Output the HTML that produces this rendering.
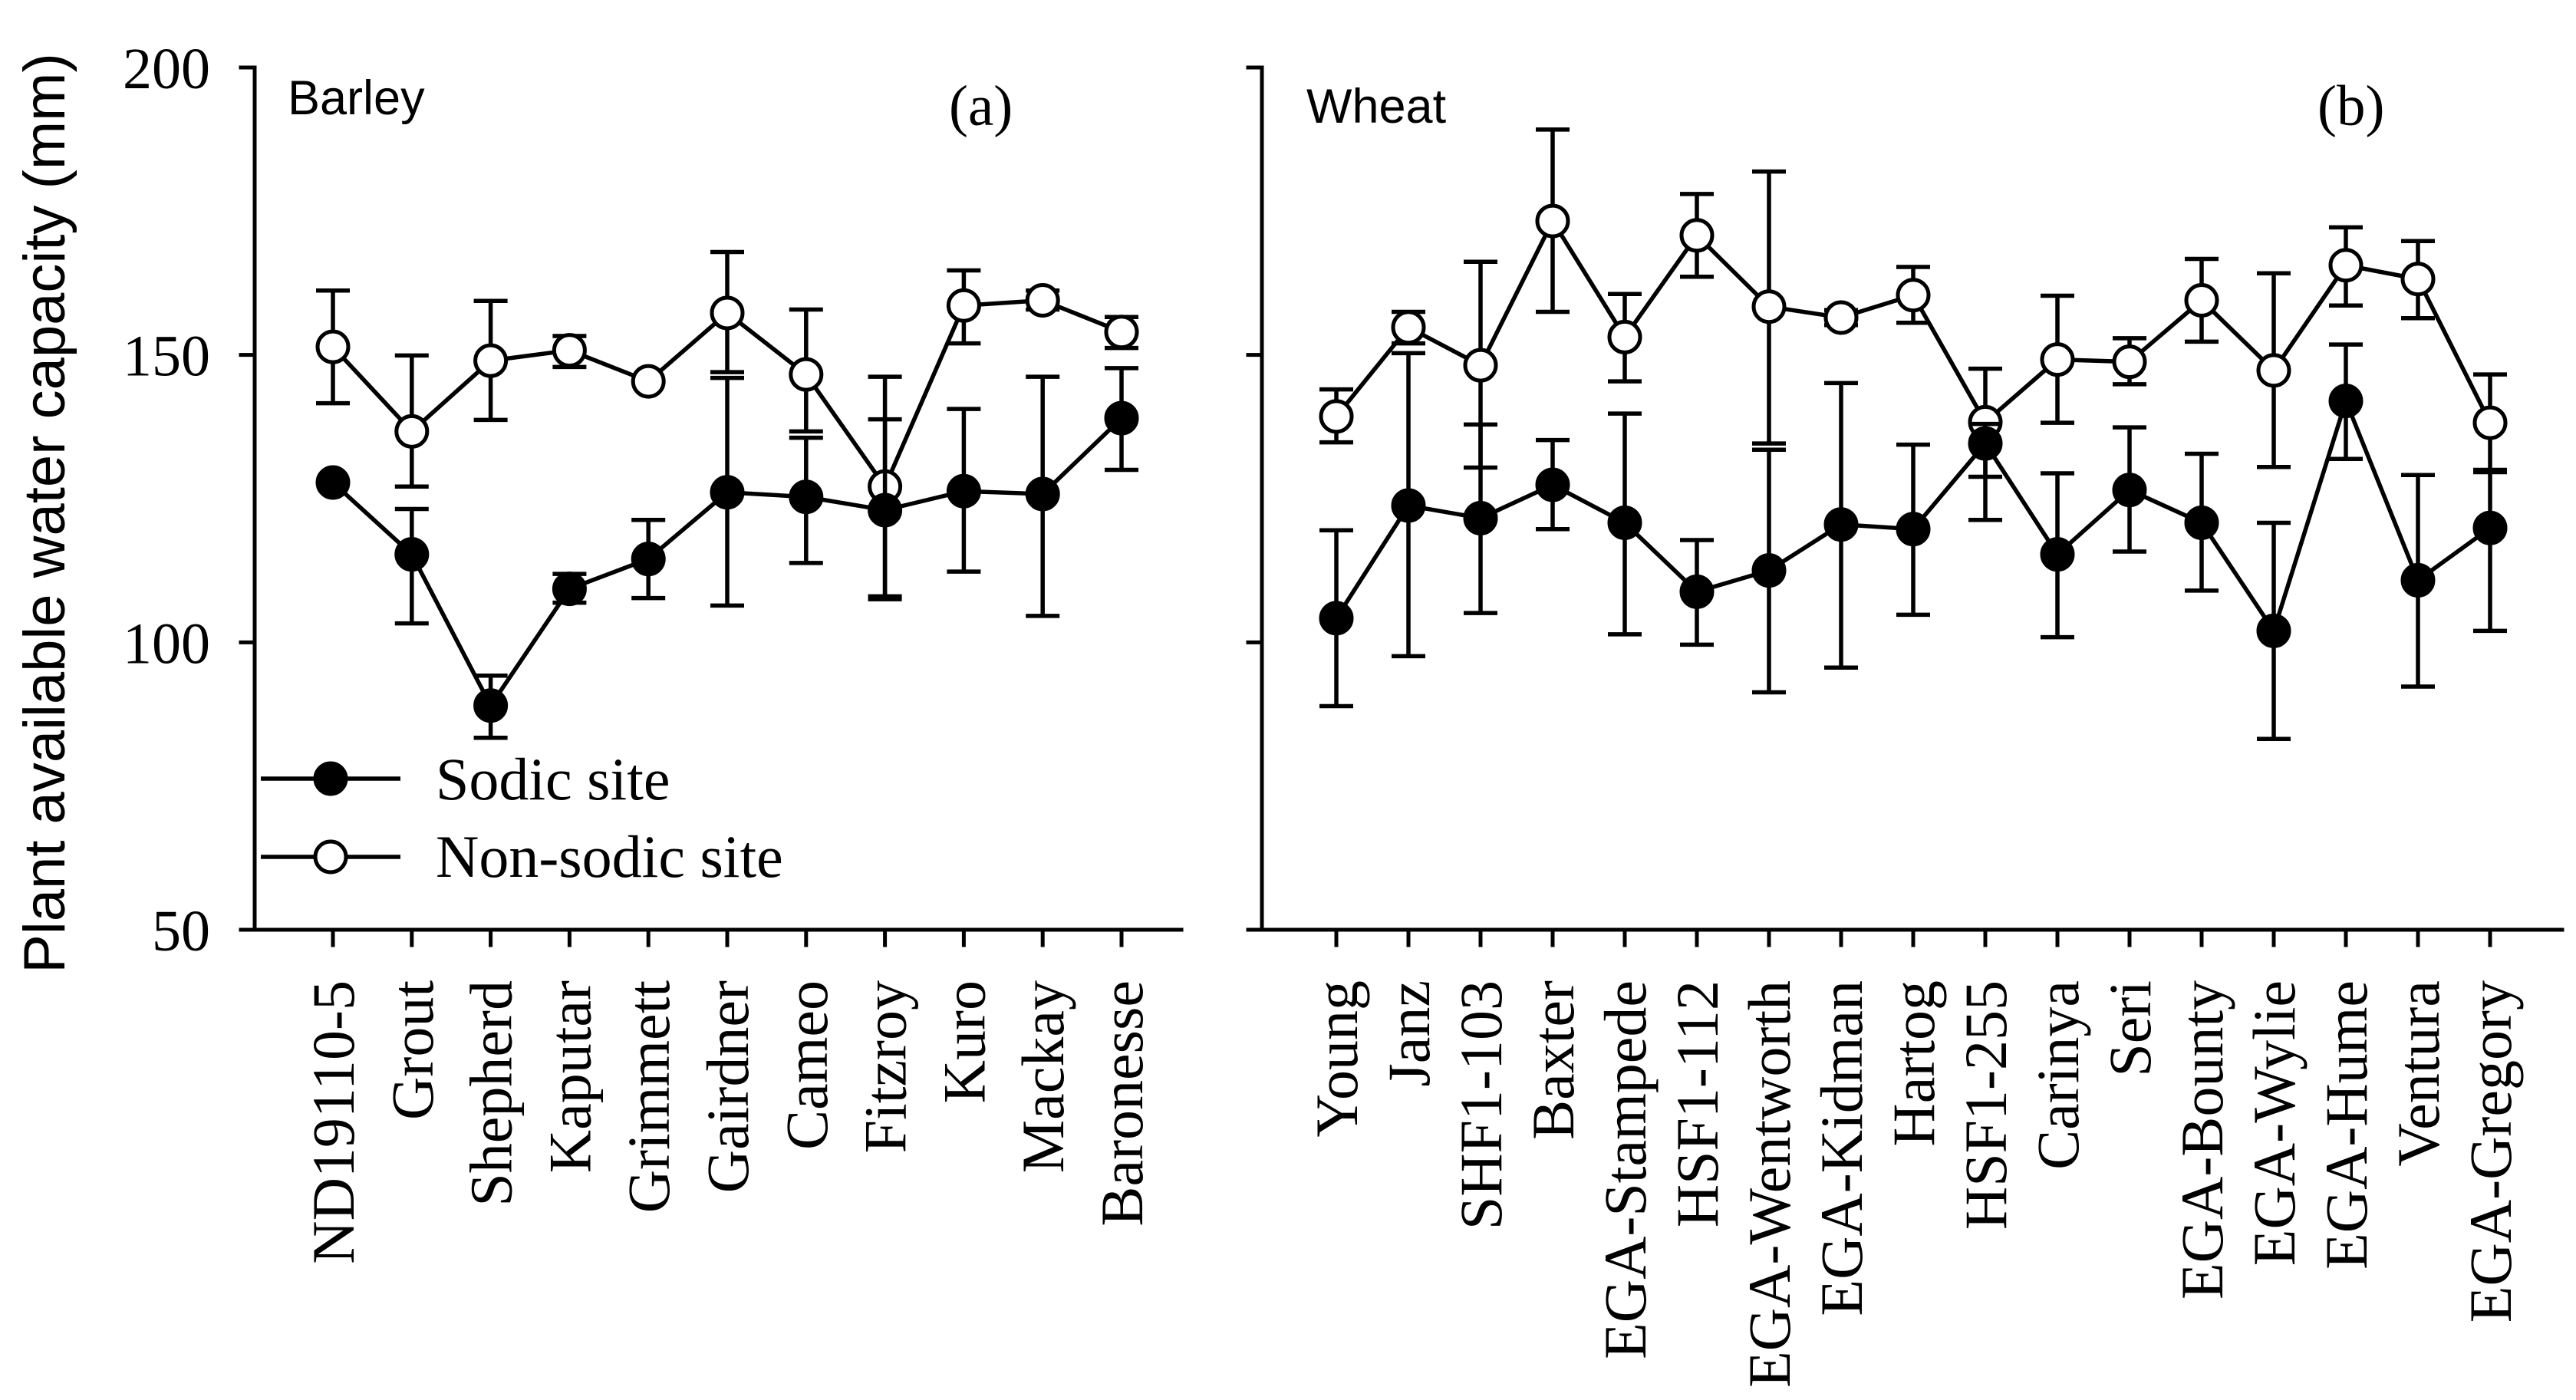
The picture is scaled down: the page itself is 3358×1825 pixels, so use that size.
<!DOCTYPE html>
<html><head><meta charset="utf-8"><style>
html,body{margin:0;padding:0;background:#fff}
svg{display:block}
.tm{font-family:"Liberation Serif",serif}
.ar{font-family:"Liberation Sans",sans-serif}
</style></head><body>
<svg id="chart" width="3358" height="1825" viewBox="0 0 3358 1825" xmlns="http://www.w3.org/2000/svg">
<g id="axes" stroke="#000" stroke-width="5" fill="none" stroke-linecap="square"></g>
<g id="marks"></g>
<g id="labels"></g>
<text class="ar" transform="translate(84,669) rotate(-90)" text-anchor="middle" font-size="76">Plant available water capacity (mm)</text>
<text class="ar" x="375" y="149" font-size="63">Barley</text>
<text class="tm" x="1237" y="163" font-size="75">(a)</text>
<text class="ar" x="1703" y="160" font-size="63">Wheat</text>
<text class="tm" x="3021" y="163" font-size="75">(b)</text>
<g>
<line x1="340" y1="1015" x2="522" y2="1015" stroke="#000" stroke-width="5.5"/>
<circle cx="431" cy="1015" r="20" fill="#000" stroke="#000" stroke-width="5"/>
<text class="tm" x="568" y="1042" font-size="78">Sodic site</text>
<line x1="340" y1="1117" x2="522" y2="1117" stroke="#000" stroke-width="5.5"/>
<circle cx="431" cy="1117" r="20" fill="#fff" stroke="#000" stroke-width="5"/>
<text class="tm" x="568" y="1143" font-size="78">Non-sodic site</text>
</g>
</svg>
<script>
const yTicks = [50, 100, 150, 200];
const barleyCats = ["ND19110-5","Grout","Shepherd","Kaputar","Grimmett","Gairdner","Cameo","Fitzroy","Kuro","Mackay","Baronesse"];
const barleySodic = [127.8,115.3,89.0,109.3,114.5,126.1,125.3,123.0,126.3,125.8,139.0];
const barleySodicHi = [127.8,123.2,94.2,111.9,121.3,146.0,135.6,138.8,140.6,146.2,147.7];
const barleySodicLo = [127.8,103.3,83.4,106.9,107.7,106.4,113.8,107.5,112.3,104.6,130.0];
const barleyNon = [151.4,136.7,149.0,150.8,145.4,157.3,146.6,127.1,158.6,159.5,154.0];
const barleyNonHi = [161.2,149.9,159.4,153.3,145.4,167.9,157.9,146.2,164.7,161.2,156.6];
const barleyNonLo = [141.6,127.1,138.7,147.9,145.4,147.0,136.7,108.0,152.0,157.9,151.2];
const wheatCats = ["Young","Janz","SHF1-103","Baxter","EGA-Stampede","HSF1-112","EGA-Wentworth","EGA-Kidman","Hartog","HSF1-255","Carinya","Seri","EGA-Bounty","EGA-Wylie","EGA-Hume","Ventura","EGA-Gregory"];
const wheatSodic = [104.2,123.8,121.6,127.4,120.8,108.8,112.5,120.5,119.7,134.6,115.3,126.5,120.8,102.0,142.0,110.8,119.9];
const wheatSodicHi = [119.5,150.3,137.9,135.2,139.8,117.8,133.5,145.1,134.4,138.0,129.4,137.4,132.8,120.8,151.8,129.1,129.6];
const wheatSodicLo = [88.9,97.6,105.1,119.7,101.4,99.6,91.3,95.6,104.8,121.3,100.9,115.8,109.0,83.2,131.9,92.3,102.0];
const wheatNon = [139.3,154.8,148.2,173.3,153.1,170.8,158.4,156.5,160.4,138.3,149.2,148.8,159.5,147.3,165.6,163.2,138.2];
const wheatNonHi = [144.0,157.5,166.2,189.2,160.6,178.0,181.9,157.8,165.3,147.6,160.3,152.9,166.7,164.2,172.2,169.8,146.6];
const wheatNonLo = [134.8,152.0,130.4,157.5,145.4,163.6,134.6,155.2,155.6,128.8,138.2,144.9,152.3,130.5,158.6,156.4,130.0];

const NS = "http://www.w3.org/2000/svg";
function yS(v){ return 1212 - (v - 50) * (1124 / 150); }
function xA(i){ return 434 + i * 102.8; }
function xB(i){ return 1742 + i * 94.0; }
function mk(tag, attrs, parent){
  const e = document.createElementNS(NS, tag);
  for (const k in attrs) e.setAttribute(k, attrs[k]);
  parent.appendChild(e); return e;
}
const axes = document.getElementById('axes');
const marks = document.getElementById('marks');
const labels = document.getElementById('labels');

function panel(key, x0, xEnd, xf, cats, showTickLabels){
  let l = mk('line', {x1:x0, y1:yS(200), x2:x0, y2:yS(50)}, axes);
  
  
  l = mk('line', {x1:x0-18, y1:yS(50), x2:xEnd, y2:yS(50)}, axes);
  
  
  yTicks.forEach(function(t){
    const tk = mk('line', {x1:x0-18, y1:yS(t), x2:x0, y2:yS(t)}, axes);
    
    
    if (showTickLabels){
      const tx = mk('text', {x:x0-58, y:yS(t)+27, 'text-anchor':'end', 'font-size':76, class:'tm'}, labels);
      tx.textContent = String(t);
      
      
    }
  });
  cats.forEach(function(c, i){
    const x = xf(i);
    const tk = mk('line', {x1:x, y1:yS(50), x2:x, y2:yS(50)+20}, axes);
    
    
    const tx = mk('text', {transform:'translate(' + (x+27) + ',1278) rotate(-90)', 'text-anchor':'end', 'font-size':78, class:'tm'}, labels);
    tx.textContent = c;
    
    
  });
}
function series(key, xf, vals, hi, lo, filled){
  const g = mk('g', {}, marks);
  
  
  vals.forEach(function(v, i){
    const x = xf(i);
    if (Math.abs(hi[i]-v) > 0.5 || Math.abs(v-lo[i]) > 0.5){
      const e = mk('path', {d:'M' + x + ' ' + yS(hi[i]) + 'V' + yS(lo[i]) + 'M' + (x-22) + ' ' + yS(hi[i]) + 'H' + (x+22) + 'M' + (x-22) + ' ' + yS(lo[i]) + 'H' + (x+22), stroke:'#000', 'stroke-width':5.5, fill:'none'}, g);
      
      
    }
  });
  const pts = vals.map(function(v, i){ return xf(i) + ',' + yS(v); }).join(' ');
  const pl = mk('polyline', {points:pts, stroke:'#000', 'stroke-width':5.5, fill:'none'}, g);
  
  
  vals.forEach(function(v, i){
    const c = mk('circle', {cx:xf(i), cy:yS(v), r:20, fill:filled ? '#000' : '#fff', stroke:'#000', 'stroke-width':5}, g);
    
    
  });
}
panel('barley', 332, 1540, xA, barleyCats, true);
panel('wheat', 1645, 3340, xB, wheatCats, false);
series('barley-non-sodic', xA, barleyNon, barleyNonHi, barleyNonLo, false);
series('barley-sodic', xA, barleySodic, barleySodicHi, barleySodicLo, true);
series('wheat-non-sodic', xB, wheatNon, wheatNonHi, wheatNonLo, false);
series('wheat-sodic', xB, wheatSodic, wheatSodicHi, wheatSodicLo, true);
</script>
</body></html>
